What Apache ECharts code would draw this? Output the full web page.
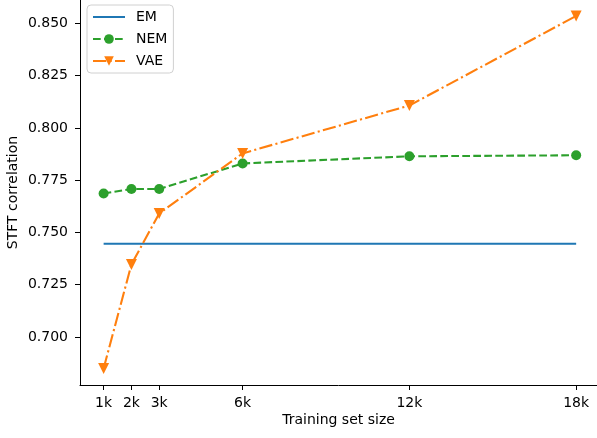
<!DOCTYPE html>
<html>
<head>
<meta charset="utf-8">
<script src="https://cdn.jsdelivr.net/npm/echarts@6/dist/echarts.min.js"></script>
<style>
  html, body { margin: 0; padding: 0; background: #fff; }
  #chart { width: 597px; height: 438px; }
</style>
</head>
<body>
<div id="chart"></div>
<script>
// training set sizes and correlation values
const sizes = [1000, 2000, 3000, 6000, 12000, 18000];
const emVals = [0.7446, 0.7446, 0.7446, 0.7446, 0.7446, 0.7446];
const nemVals = [0.7686, 0.7708, 0.7708, 0.7830, 0.7864, 0.7869];
const vaeVals = [0.6850, 0.7347, 0.7591, 0.7878, 0.8107, 0.8535];
const yTicks = [0.700, 0.725, 0.750, 0.775, 0.800, 0.825, 0.850];

const pairs = vals => sizes.map((s, i) => [s, vals[i]]);
const font = 'DejaVu Sans';

const chart = echarts.init(document.getElementById('chart'));
chart.setOption({
  animation: false,
  textStyle: { fontFamily: font, color: '#000' },
  grid: { left: 80, right: 0, top: 0, bottom: 53, outerBoundsMode: 'none' },
  legend: {
    orient: 'vertical',
    left: 87, top: 5,
    padding: [5, 6, 5, 5],
    itemGap: 8,
    itemWidth: 32, itemHeight: 12,
    backgroundColor: '#fff',
    borderColor: '#d0d0d0', borderWidth: 1, borderRadius: 4,
    textStyle: { fontFamily: font, fontSize: 14, color: '#000', padding: [0, 0, 0, 6] },
    data: [
      { name: 'EM', itemStyle: { opacity: 0 } },
      'NEM', 'VAE'
    ]
  },
  xAxis: {
    type: 'value',
    min: 150, max: 18750,
    name: 'Training set size',
    nameLocation: 'middle',
    nameGap: 28,
    nameMoveOverlap: false,
    nameTextStyle: { fontFamily: font, fontSize: 14, color: '#000' },
    axisLine: { lineStyle: { color: '#000', width: 1 } },
    axisTick: { length: 5, lineStyle: { color: '#000' }, customValues: sizes },
    axisLabel: {
      fontFamily: font, fontSize: 14, color: '#000', margin: 11,
      customValues: sizes,
      formatter: v => (v / 1000) + 'k'
    },
    splitLine: { show: false }
  },
  yAxis: {
    type: 'value',
    min: 0.67707, max: 0.86113,
    name: 'STFT correlation',
    nameLocation: 'middle',
    nameGap: 60,
    nameMoveOverlap: false,
    nameTextStyle: { fontFamily: font, fontSize: 14, color: '#000' },
    axisLine: { show: true, lineStyle: { color: '#000', width: 1 } },
    axisTick: { show: true, length: 5, lineStyle: { color: '#000' }, customValues: yTicks },
    axisLabel: {
      fontFamily: font, fontSize: 14, color: '#000', margin: 12,
      customValues: yTicks,
      formatter: v => v.toFixed(3)
    },
    splitLine: { show: false }
  },
  series: [
    {
      name: 'EM', type: 'line',
      data: pairs(emVals),
      showSymbol: false, symbol: 'none',
      lineStyle: { color: '#1f77b4', width: 2.1 },
      itemStyle: { color: '#1f77b4' }
    },
    {
      name: 'NEM', type: 'line',
      data: pairs(nemVals),
      symbol: 'circle', symbolSize: 10,
      lineStyle: { color: '#2ca02c', width: 2.1, type: [7.7, 3.3] },
      itemStyle: { color: '#2ca02c' }
    },
    {
      name: 'VAE', type: 'line',
      data: pairs(vaeVals),
      symbol: 'triangle', symbolRotate: 180, symbolSize: 11,
      lineStyle: { color: '#ff7f0e', width: 2.1, type: [13.3, 3.3, 2.1, 3.3] },
      itemStyle: { color: '#ff7f0e' }
    }
  ]
});
</script>
</body>
</html>
